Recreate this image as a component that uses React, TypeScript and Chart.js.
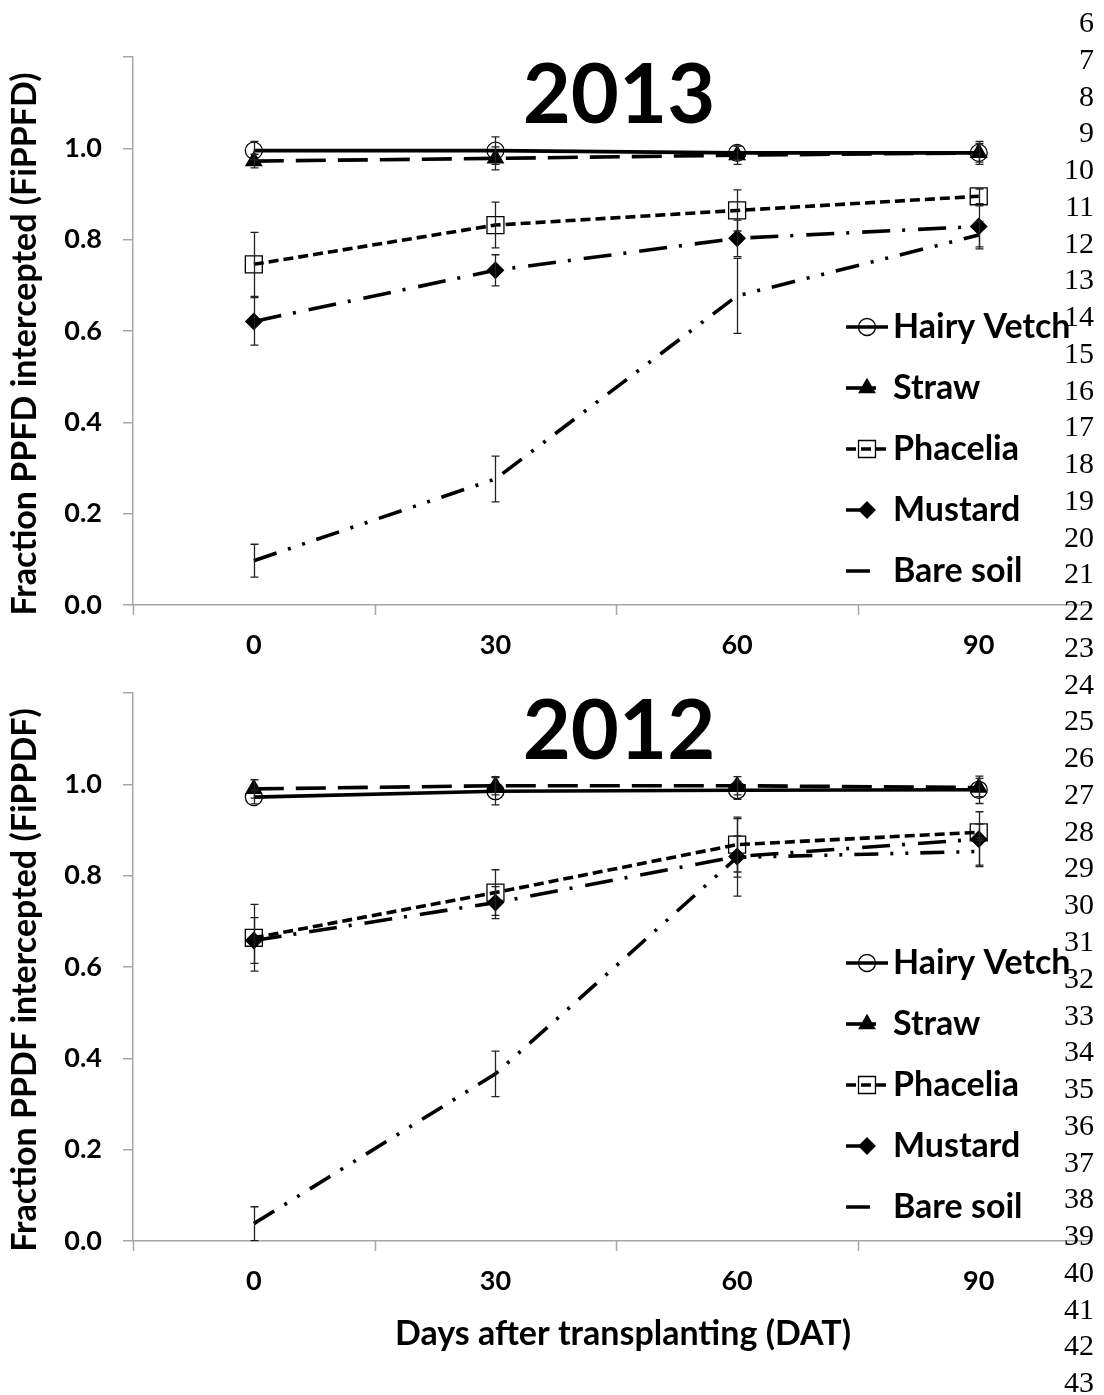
import React, { useEffect, useRef } from 'react';
import { Chart, registerables } from 'chart.js';

Chart.register(...registerables);

// ---------- data ----------
const days = [0, 30, 60, 90];
const xTickLabels = ['0', '30', '60', '90'];
const xTickMarks = [-15, 15, 45, 75];
const seriesNames = ['Hairy Vetch', 'Straw', 'Phacelia', 'Mustard', 'Bare soil'];

// 2013
const vetch2013 = [0.995, 0.995, 0.99, 0.99];
const vetch2013Err = [0.02, 0.03, 0.015, 0.02];
const straw2013 = [0.972, 0.978, 0.985, 0.99];
const straw2013Err = [0.015, 0.025, 0.02, 0.025];
const phacelia2013 = [0.746, 0.832, 0.864, 0.895];
const phacelia2013Err = [0.07, 0.05, 0.045, 0.016];
const mustard2013 = [0.621, 0.733, 0.803, 0.829];
const mustard2013Err = [0.052, 0.034, 0.04, 0.045];
const bare2013 = [0.097, 0.276, 0.677, 0.81];
const bare2013Err = [0.036, 0.05, 0.082, 0.03];

// 2012
const vetch2012 = [0.972, 0.985, 0.987, 0.988];
const vetch2012Err = [0.015, 0.03, 0.02, 0.03];
const straw2012 = [0.99, 0.997, 0.997, 0.993];
const straw2012Err = [0.02, 0.02, 0.02, 0.02];
const phacelia2012 = [0.664, 0.763, 0.868, 0.895];
const phacelia2012Err = [0.073, 0.05, 0.06, 0.018];
const mustard2012 = [0.658, 0.741, 0.842, 0.88];
const mustard2012Err = [0.05, 0.035, 0.045, 0.06];
const bare2012 = [0.038, 0.366, 0.84, 0.853];
const bare2012Err = [0.037, 0.05, 0.085, 0.03];

const lineNumbers = [6, 7, 8, 9, 10, 11, 12, 13, 14, 15, 16, 17, 18, 19, 20, 21, 22, 23, 24, 25,
  26, 27, 28, 29, 30, 31, 32, 33, 34, 35, 36, 37, 38, 39, 40, 41, 42, 43];

// ---------- styles ----------
const FONT = 'Lato, "Open Sans", sans-serif';
const AXIS_COLOR = '#a6a6a6';

const seriesStyles: any[] = [
  { dash: [], pointStyle: 'circle', radius: 8.5, fill: false, legendEnd: 888 },
  { dash: [30, 12], pointStyle: 'triangle', radius: 9, fill: true, legendEnd: 878 },
  { dash: [10, 5], pointStyle: 'rect', radius: 12, fill: false, legendEnd: 888 },
  { dash: [28, 12, 3, 13], pointStyle: 'rectRot', radius: 8, fill: true, legendEnd: 876 },
  { dash: [24, 12, 3, 12, 3, 12], pointStyle: false, radius: 0, fill: false, legendEnd: 876 },
];

type PanelProps = {
  top: number;
  height: number;
  title: string;
  yTitle: string;
  values: number[][];
  errors: number[][];
  xTitle?: string;
};

function drawMarker(ctx: CanvasRenderingContext2D, style: any, x: number, y: number) {
  if (!style.pointStyle) return;
  ctx.save();
  ctx.setLineDash([]);
  ctx.lineWidth = 1.3;
  ctx.strokeStyle = '#000';
  ctx.fillStyle = '#000';
  const r = style.radius;
  ctx.beginPath();
  if (style.pointStyle === 'circle') {
    ctx.arc(x, y, r, 0, Math.PI * 2);
  } else if (style.pointStyle === 'triangle') {
    ctx.moveTo(x, y - r);
    ctx.lineTo(x + r * 0.866, y + r * 0.5);
    ctx.lineTo(x - r * 0.866, y + r * 0.5);
    ctx.closePath();
  } else if (style.pointStyle === 'rect') {
    const s = r * Math.SQRT1_2;
    ctx.rect(x - s, y - s, 2 * s, 2 * s);
  } else if (style.pointStyle === 'rectRot') {
    ctx.moveTo(x, y - r);
    ctx.lineTo(x + r, y);
    ctx.lineTo(x, y + r);
    ctx.lineTo(x - r, y);
    ctx.closePath();
  }
  if (style.fill) ctx.fill();
  ctx.stroke();
  ctx.restore();
}

function Panel({ top, height, title, yTitle, values, errors, xTitle }: PanelProps) {
  const ref = useRef<HTMLCanvasElement>(null);

  useEffect(() => {
    const canvas = ref.current;
    if (!canvas) return;

    const datasets = seriesNames.map((name, i) => ({
      label: name,
      data: days.map((d, j) => ({ x: d, y: values[i][j] })),
      errors: errors[i],
      borderColor: '#000',
      borderWidth: 3.6,
      borderDash: seriesStyles[i].dash,
      borderCapStyle: 'butt',
      pointStyle: seriesStyles[i].pointStyle,
      pointRadius: seriesStyles[i].radius,
      pointHoverRadius: seriesStyles[i].radius,
      pointBorderWidth: 1.3,
      pointBorderColor: '#000',
      pointBackgroundColor: seriesStyles[i].fill ? '#000' : 'rgba(0,0,0,0)',
      tension: 0,
      fill: false,
    }));

    const decorPlugin = {
      id: 'decor',
      afterDatasetsDraw(chart: any) {
        const { ctx, chartArea } = chart;
        const xs = chart.scales.x;
        const ys = chart.scales.y;
        // error bars
        ctx.save();
        ctx.setLineDash([]);
        ctx.strokeStyle = '#222';
        ctx.lineWidth = 1.3;
        chart.data.datasets.forEach((ds: any) => {
          ds.data.forEach((p: any, j: number) => {
            const e = ds.errors[j];
            const px = Math.round(xs.getPixelForValue(p.x)) + 0.5;
            const yTop = ys.getPixelForValue(p.y + e);
            const yBot = ys.getPixelForValue(p.y - e);
            ctx.beginPath();
            ctx.moveTo(px, yTop);
            ctx.lineTo(px, yBot);
            ctx.moveTo(px - 4, yTop);
            ctx.lineTo(px + 4, yTop);
            ctx.moveTo(px - 4, yBot);
            ctx.lineTo(px + 4, yBot);
            ctx.stroke();
          });
        });
        // x tick marks between categories
        ctx.strokeStyle = AXIS_COLOR;
        ctx.lineWidth = 1.5;
        xTickMarks.forEach((v) => {
          const px = Math.round(xs.getPixelForValue(v)) + 0.5;
          ctx.beginPath();
          ctx.moveTo(px, chartArea.bottom);
          ctx.lineTo(px, chartArea.bottom + 10);
          ctx.stroke();
        });
        ctx.restore();
      },
      afterDraw(chart: any) {
        const { ctx } = chart;
        ctx.save();
        ctx.fillStyle = '#000';
        // year title
        ctx.font = `bold 83px ${FONT}`;
        ctx.textAlign = 'center';
        ctx.textBaseline = 'alphabetic';
        ctx.fillText(title, 619, 123);
        // y axis title
        ctx.save();
        ctx.translate(36, 344);
        ctx.rotate(-Math.PI / 2);
        ctx.font = `bold 34px ${FONT}`;
        ctx.textAlign = 'center';
        ctx.textBaseline = 'alphabetic';
        ctx.fillText(yTitle, 0, 0);
        ctx.restore();
        // x axis title
        if (xTitle) {
          ctx.font = `bold 34px ${FONT}`;
          ctx.textAlign = 'center';
          ctx.textBaseline = 'alphabetic';
          ctx.fillText(xTitle, 623, 709);
        }
        // legend
        const lx0 = 846;
        seriesNames.forEach((name, i) => {
          const ly = 327 + i * 61;
          const st = seriesStyles[i];
          ctx.save();
          ctx.beginPath();
          ctx.rect(lx0, ly - 10, st.legendEnd - lx0, 20);
          ctx.clip();
          ctx.strokeStyle = '#000';
          ctx.lineWidth = 3.6;
          ctx.lineCap = 'butt';
          ctx.setLineDash(st.dash);
          ctx.beginPath();
          ctx.moveTo(lx0, ly);
          ctx.lineTo(888, ly);
          ctx.stroke();
          ctx.restore();
          drawMarker(ctx, st, 867, ly);
          ctx.font = `bold 34px ${FONT}`;
          ctx.textAlign = 'left';
          ctx.textBaseline = 'middle';
          ctx.fillStyle = '#000';
          ctx.fillText(name, 893, ly);
        });
        ctx.restore();
      },
    };

    const chart = new Chart(canvas, {
      type: 'line',
      data: { datasets: datasets as any },
      options: {
        responsive: false,
        animation: false,
        events: [],
        layout: { padding: { top: 57, left: 0, right: 0, bottom: 0 } },
        plugins: {
          legend: { display: false },
          tooltip: { enabled: false },
          title: { display: false },
        },
        scales: {
          x: {
            type: 'linear',
            min: -15,
            max: 103.9,
            afterBuildTicks: (s: any) => {
              s.ticks = days.map((v) => ({ value: v }));
            },
            afterFit: (s: any) => {
              s.height = height - 605;
            },
            ticks: {
              autoSkip: false,
              maxRotation: 0,
              padding: 24,
              color: '#000',
              font: { family: FONT, size: 27, weight: 'bold' },
              callback: (v: any) => {
                const k = days.indexOf(Number(v));
                return k >= 0 ? xTickLabels[k] : '';
              },
            },
            grid: { display: true, drawOnChartArea: false, drawTicks: false, color: AXIS_COLOR },
            border: { display: true, color: AXIS_COLOR, width: 1.5 },
          },
          y: {
            type: 'linear',
            min: 0,
            max: 1.2,
            afterFit: (s: any) => {
              s.width = 133;
            },
            ticks: {
              stepSize: 0.2,
              padding: 21,
              color: '#000',
              font: { family: FONT, size: 27, weight: 'bold' },
              callback: (v: any) => (Number(v) > 1.1 ? '' : Number(v).toFixed(1)),
            },
            grid: {
              display: true,
              drawOnChartArea: false,
              drawTicks: true,
              tickLength: 10,
              color: AXIS_COLOR,
              lineWidth: 1.5,
            },
            border: { display: true, color: AXIS_COLOR, width: 1.5 },
          },
        },
      } as any,
      plugins: [decorPlugin],
    });

    return () => {
      chart.destroy();
    };
  }, [top, height, title, yTitle, values, errors, xTitle]);

  return (
    <canvas
      ref={ref}
      width={1104}
      height={height}
      style={{ position: 'absolute', left: 0, top, width: 1104, height, display: 'block' }}
    />
  );
}

const values2013 = [vetch2013, straw2013, phacelia2013, mustard2013, bare2013];
const errors2013 = [vetch2013Err, straw2013Err, phacelia2013Err, mustard2013Err, bare2013Err];
const values2012 = [vetch2012, straw2012, phacelia2012, mustard2012, bare2012];
const errors2012 = [vetch2012Err, straw2012Err, phacelia2012Err, mustard2012Err, bare2012Err];

export default function App() {
  return (
    <div
      style={{
        position: 'absolute',
        left: 0,
        top: 0,
        width: 1104,
        height: 1395,
        background: '#fff',
        overflow: 'hidden',
      }}
    >
      <Panel
        top={0}
        height={680}
        title="2013"
        yTitle="Fraction PPFD intercepted (FiPPFD)"
        values={values2013}
        errors={errors2013}
      />
      <Panel
        top={636}
        height={759}
        title="2012"
        yTitle="Fraction PPDF intercepted (FiPPDF)"
        values={values2012}
        errors={errors2012}
        xTitle="Days after transplanting (DAT)"
      />
      {lineNumbers.map((n, i) => (
        <div
          key={n}
          style={{
            position: 'absolute',
            right: 10,
            top: 22 + i * 36.76 - 15,
            fontFamily: '"Liberation Serif", "Times New Roman", serif',
            fontSize: 30,
            lineHeight: '30px',
            color: '#000',
          }}
        >
          {n}
        </div>
      ))}
    </div>
  );
}
